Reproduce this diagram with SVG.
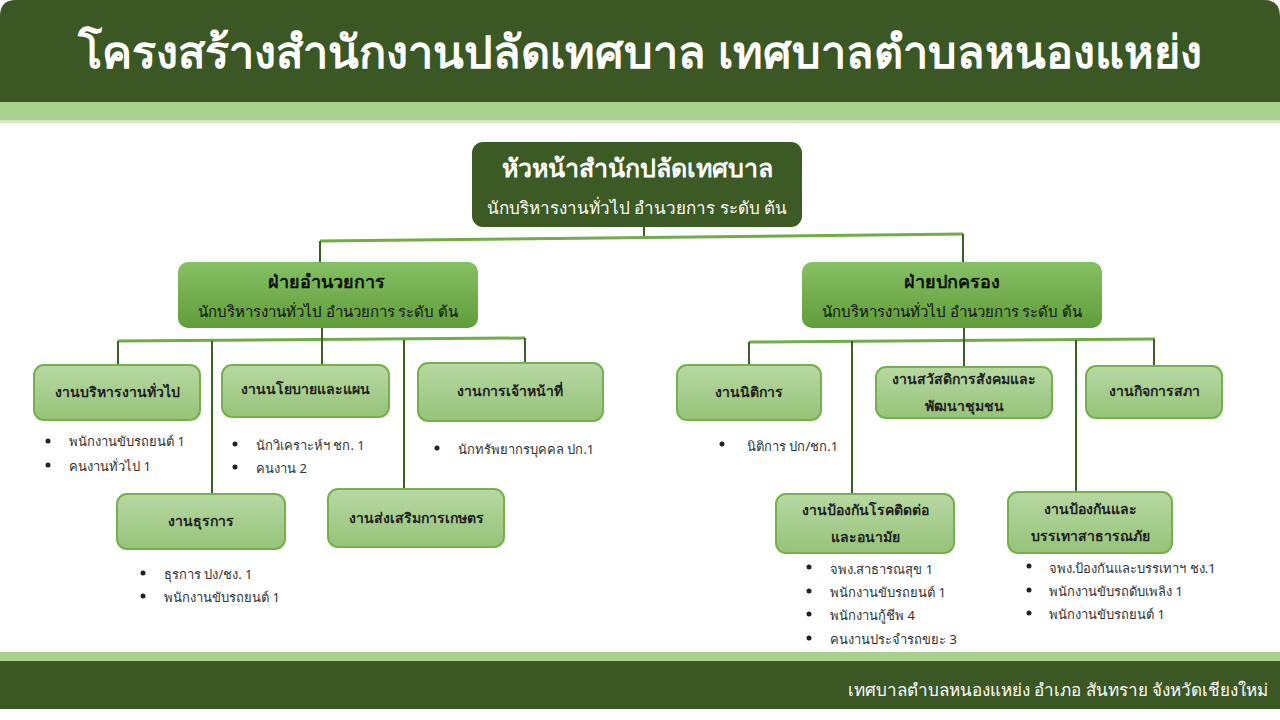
<svg xmlns="http://www.w3.org/2000/svg" width="1280" height="720" viewBox="0 0 1280 720">
<defs>
<linearGradient id="g2" x1="0" y1="0" x2="0" y2="1">
<stop offset="0" stop-color="#86c064"/>
<stop offset="1" stop-color="#5f9d39"/>
</linearGradient>
<linearGradient id="g3" x1="0" y1="0" x2="0" y2="1">
<stop offset="0" stop-color="#b7d8a3"/>
<stop offset="1" stop-color="#96c379"/>
</linearGradient>
</defs>
<style>
text{font-family:"Noto Sans","DejaVu Sans",sans-serif}
.title{fill:#ffffff;font-size:45px;font-weight:bold}
.foot{fill:#ffffff;font-size:17px}
.n1{fill:url(#g2)}
.n0{fill:#3b5a24}
.n3{fill:url(#g3);stroke:#74b04b;stroke-width:2}
.t0a{fill:#ffffff;font-size:25px;font-weight:bold}
.t0b{fill:#ffffff;font-size:17px}
.t1a{fill:#111;font-size:18px;font-weight:bold}
.t1b{fill:#111;font-size:15px}
.t3{fill:#222;font-size:14px;font-weight:bold}
.b{fill:#333;font-size:13px}
.h{stroke:#70ad47;stroke-width:3;fill:none}
.v{stroke:#3d5f23;stroke-width:2;fill:none}
</style>
<rect x="0" y="0" width="1280" height="720" fill="#ffffff"/>
<path d="M0 16 Q0 0 16 0 L1264 0 Q1280 0 1280 16 L1280 102 L0 102 Z" fill="#3b5724"/>
<rect x="0" y="102" width="1280" height="18" fill="#a9d18e"/>
<rect x="0" y="120" width="1280" height="3" fill="#d3e8c5"/>
<text class="title" x="640" y="68" text-anchor="middle">โครงสร้างสำนักงานปลัดเทศบาล เทศบาลตำบลหนองแหย่ง</text>
<rect x="0" y="652" width="1280" height="9" fill="#a9d18e"/>
<rect x="0" y="661" width="1280" height="48" fill="#3b5724"/>
<text class="foot" x="1268" y="696" text-anchor="end">เทศบาลตำบลหนองแหย่ง อำเภอ สันทราย จังหวัดเชียงใหม่</text>

<g id="connectors">
<path class="v" d="M644 227 V239"/>
<path class="h" d="M320 241 L963 234"/>
<path class="v" d="M320 241 V262"/>
<path class="v" d="M963 234 V262"/>
<path class="h" d="M118 341 L525 338"/>
<path class="v" d="M118 341 V365"/>
<path class="v" d="M212 341 V494"/>
<path class="v" d="M322 328 V365"/>
<path class="v" d="M404 340 V489"/>
<path class="v" d="M525 338 V363"/>
<path class="h" d="M749 342 L1155 339"/>
<path class="v" d="M749 342 V365"/>
<path class="v" d="M852 341 V494"/>
<path class="v" d="M964 328 V367"/>
<path class="v" d="M1076 340 V492"/>
<path class="v" d="M1154 339 V366"/>
</g>

<g id="head">
<rect class="n0" x="472" y="142" width="330" height="85" rx="11"/>
<text class="t0a" x="637" y="177" text-anchor="middle">หัวหน้าสำนักปลัดเทศบาล</text>
<text class="t0b" x="637" y="214" text-anchor="middle">นักบริหารงานทั่วไป อำนวยการ ระดับ ต้น</text>
</g>

<g id="admin">
<rect class="n1" x="178" y="262" width="300" height="66" rx="10"/>
<text class="t1a" x="326" y="288" text-anchor="middle">ฝ่ายอำนวยการ</text>
<text class="t1b" x="328" y="317" text-anchor="middle">นักบริหารงานทั่วไป อำนวยการ ระดับ ต้น</text>
</g>

<g id="gov">
<rect class="n1" x="802" y="262" width="300" height="66" rx="10"/>
<text class="t1a" x="952" y="288" text-anchor="middle">ฝ่ายปกครอง</text>
<text class="t1b" x="952" y="317" text-anchor="middle">นักบริหารงานทั่วไป อำนวยการ ระดับ ต้น</text>
</g>

<g id="general">
<rect class="n3" x="34" y="365" width="166" height="55" rx="10"/>
<text class="t3" x="117" y="397" text-anchor="middle">งานบริหารงานทั่วไป</text>
<circle cx="48" cy="441" r="2.5" fill="#222"/>
<text class="b" x="69" y="446">พนักงานขับรถยนต์ 1</text>
<circle cx="48" cy="465" r="2.5" fill="#222"/>
<text class="b" x="69" y="471">คนงานทั่วไป 1</text>
</g>

<g id="policy">
<rect class="n3" x="222" y="365" width="167" height="52" rx="10"/>
<text class="t3" x="305" y="394" text-anchor="middle">งานนโยบายและแผน</text>
<circle cx="235" cy="444" r="2.5" fill="#222"/>
<text class="b" x="256" y="450">นักวิเคราะห์ฯ ชก. 1</text>
<circle cx="235" cy="467" r="2.5" fill="#222"/>
<text class="b" x="256" y="473">คนงาน 2</text>
</g>

<g id="personnel">
<rect class="n3" x="418" y="363" width="185" height="58" rx="10"/>
<text class="t3" x="510" y="396" text-anchor="middle">งานการเจ้าหน้าที่</text>
<circle cx="437" cy="448" r="2.5" fill="#222"/>
<text class="b" x="458" y="454">นักทรัพยากรบุคคล ปก.1</text>
</g>

<g id="clerical">
<rect class="n3" x="117" y="494" width="168" height="55" rx="10"/>
<text class="t3" x="201" y="526" text-anchor="middle">งานธุรการ</text>
<circle cx="143" cy="573" r="2.5" fill="#222"/>
<text class="b" x="164" y="579">ธุรการ  ปง/ชง. 1</text>
<circle cx="143" cy="596" r="2.5" fill="#222"/>
<text class="b" x="164" y="602">พนักงานขับรถยนต์ 1</text>
</g>

<g id="agri">
<rect class="n3" x="328" y="489" width="176" height="58" rx="10"/>
<text class="t3" x="416" y="523" text-anchor="middle">งานส่งเสริมการเกษตร</text>
</g>

<g id="legal">
<rect class="n3" x="677" y="365" width="144" height="55" rx="10"/>
<text class="t3" x="749" y="397" text-anchor="middle">งานนิติการ</text>
<circle cx="722" cy="444" r="2.5" fill="#222"/>
<text class="b" x="747" y="451">นิติการ ปก/ชก.1</text>
</g>

<g id="welfare">
<rect class="n3" x="876" y="367" width="176" height="51" rx="10"/>
<text class="t3" x="964" y="384" text-anchor="middle">งานสวัสดิการสังคมและ</text>
<text class="t3" x="964" y="411" text-anchor="middle">พัฒนาชุมชน</text>
</g>

<g id="council">
<rect class="n3" x="1086" y="366" width="136" height="52" rx="10"/>
<text class="t3" x="1154" y="396" text-anchor="middle">งานกิจการสภา</text>
</g>

<g id="disease">
<rect class="n3" x="776" y="494" width="178" height="59" rx="10"/>
<text class="t3" x="865" y="515" text-anchor="middle">งานป้องกันโรคติดต่อ</text>
<text class="t3" x="865" y="542" text-anchor="middle">และอนามัย</text>
<circle cx="809" cy="567" r="2.5" fill="#222"/>
<text class="b" x="830" y="574">จพง.สาธารณสุข 1</text>
<circle cx="809" cy="591" r="2.5" fill="#222"/>
<text class="b" x="830" y="597">พนักงานขับรถยนต์ 1</text>
<circle cx="809" cy="614" r="2.5" fill="#222"/>
<text class="b" x="830" y="620">พนักงานกู้ชีพ 4</text>
<circle cx="809" cy="638" r="2.5" fill="#222"/>
<text class="b" x="830" y="644">คนงานประจำรถขยะ 3</text>
</g>

<g id="disaster">
<rect class="n3" x="1008" y="492" width="164" height="61" rx="10"/>
<text class="t3" x="1090" y="514" text-anchor="middle">งานป้องกันและ</text>
<text class="t3" x="1090" y="541" text-anchor="middle">บรรเทาสาธารณภัย</text>
<circle cx="1029" cy="566" r="2.5" fill="#222"/>
<text class="b" x="1049" y="573">จพง.ป้องกันและบรรเทาฯ ชง.1</text>
<circle cx="1029" cy="590" r="2.5" fill="#222"/>
<text class="b" x="1049" y="596">พนักงานขับรถดับเพลิง 1</text>
<circle cx="1029" cy="613" r="2.5" fill="#222"/>
<text class="b" x="1049" y="619">พนักงานขับรถยนต์ 1</text>
</g>
</svg>
